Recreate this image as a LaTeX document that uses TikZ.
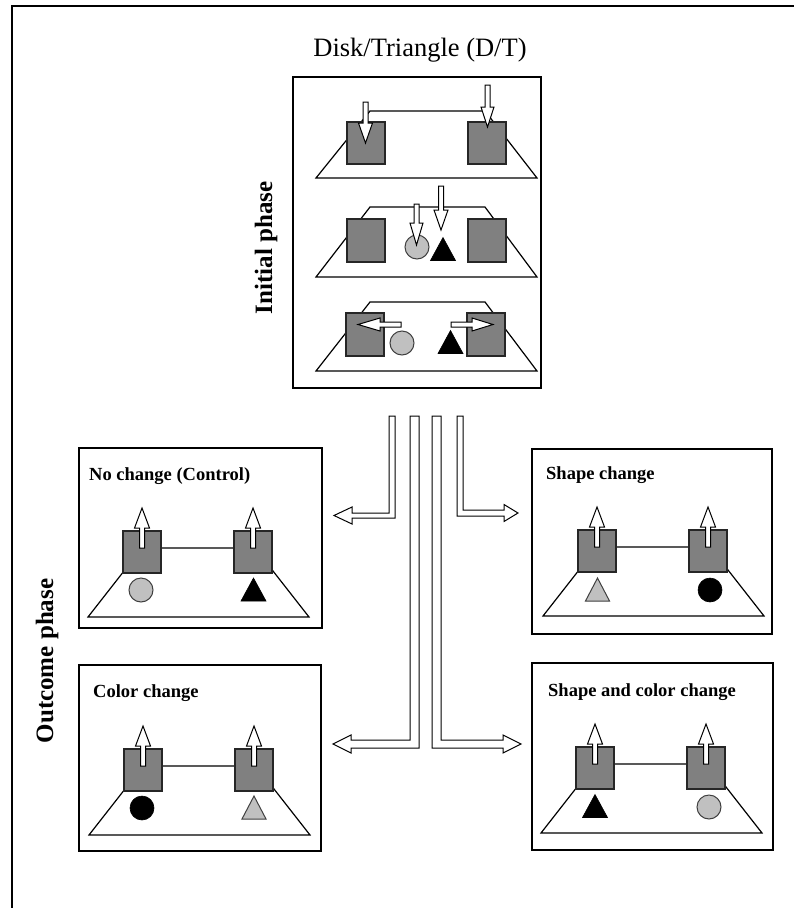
\documentclass[tikz,border=0pt]{standalone}
\usepackage{fontspec}
\setmainfont{Liberation Serif}
\definecolor{screengray}{RGB}{128,128,128}
\definecolor{lightfill}{RGB}{192,192,192}

% vertical block arrow: centre x, tail y, head base y, tip y, half head width
\newcommand{\blockV}[5]{%
  \draw[blockarrow] (#1-2.5,#2) -- (#1+2.5,#2) -- (#1+2.5,#3) -- (#1+#5,#3) -- (#1,#4)
    -- (#1-#5,#3) -- (#1-2.5,#3) -- cycle;}
% horizontal block arrow: centre y, tail x, head base x, tip x, half head height
\newcommand{\blockH}[5]{%
  \draw[blockarrow] (#2,#1-2.5) -- (#3,#1-2.5) -- (#3,#1-#5) -- (#4,#1) -- (#3,#1+#5)
    -- (#3,#1+2.5) -- (#2,#1+2.5) -- cycle;}
% stimuli
\newcommand{\lightdisk}[2]{\draw[lightshape] (#1,#2) circle[radius=12pt];}
\newcommand{\darkdisk}[2]{\draw[darkshape] (#1,#2) circle[radius=12pt];}
\newcommand{\lighttri}[2]{\draw[lightshape] (#1-12,#2+11.5) -- (#1+12,#2+11.5) -- (#1,#2-11.5) -- cycle;}
\newcommand{\darktri}[2]{\draw[darkshape] (#1-12.5,#2+11.5) -- (#1+12.5,#2+11.5) -- (#1,#2-11.5) -- cycle;}
% table with two screens and lifting arrows; origin at the table's lower left corner
\newcommand{\outcomescene}[4]{%
  \begin{scope}[shift={(#1,#2)}]
    \draw[tabletop] (0,0) -- (221,0) -- (167,-69) -- (54,-69) -- cycle;
    \draw[monitor] (35,-86) rectangle (73,-44);
    \draw[monitor] (146,-86) rectangle (184,-44);
    \blockV{54}{-69}{-89}{-109}{7.5}
    \blockV{165}{-69}{-89}{-109}{7.5}
    #3
    #4
  \end{scope}}

\begin{document}
\begin{tikzpicture}[x=1pt,y=-1pt,
  frame/.style={draw=black,line width=1.3pt},
  tabletop/.style={draw=black,line width=1.2pt,fill=white,line join=miter},
  monitor/.style={draw=black!85,fill=screengray,line width=1.2pt},
  blockarrow/.style={draw=black,fill=white,line width=1pt,line join=miter},
  lightshape/.style={draw=black!75,fill=lightfill,line width=1pt},
  darkshape/.style={draw=black,fill=black,line width=0.6pt},
  heading/.style={font=\fontsize{18.5}{22}\selectfont\bfseries,anchor=base west,inner sep=0pt},
  phase/.style={font=\fontsize{25}{30}\selectfont\bfseries,rotate=90,inner sep=0pt}]

\fill[white] (0,0) rectangle (793,908);
\useasboundingbox (0,0) rectangle (793,908);

% open outer frame
\draw[line width=2.2pt,line cap=rect] (793,6) -- (12,6) -- (12,908);

% labels
\node[font=\fontsize{26.5}{30}\selectfont,anchor=base,inner sep=0pt] (title) at (420,56) {Disk/Triangle (D/T)};
\node[phase] (initial) at (266,248) {Initial phase};
\node[phase] (outcome) at (47,661) {Outcome phase};

% ---------- initial phase ----------
\draw[frame] (293,77) rectangle (541,388);

% step 1: screens placed, stimuli lowered behind them
\draw[tabletop] (316,178) -- (537,178) -- (485,111) -- (370,111) -- cycle;
\draw[monitor] (347,122) rectangle (385,164);
\draw[monitor] (468,122) rectangle (506,164);
\blockV{365.5}{102}{123}{143}{7}
\blockV{487.5}{85}{107}{127}{6.5}

% step 2: disk and triangle lowered
\draw[tabletop] (316,277) -- (537,277) -- (485,207) -- (370,207) -- cycle;
\draw[monitor] (347,219) rectangle (385,262);
\draw[monitor] (468,219) rectangle (506,262);
\lightdisk{417}{247}
\darktri{443}{249}
\blockV{416.5}{204}{223}{245}{6.5}
\blockV{441}{186}{210}{230}{7}

% step 3: stimuli moved behind the screens
\draw[tabletop] (316,371) -- (537,371) -- (485,302) -- (370,302) -- cycle;
\draw[monitor] (346,313) rectangle (384,356);
\draw[monitor] (467,313) rectangle (505,356);
\lightdisk{402}{343}
\darktri{450.5}{342}
\blockH{324.5}{401}{380}{358}{6.5}
\blockH{324.5}{451}{472}{493}{6.5}

% ---------- branching arrows ----------
\draw[blockarrow] (389,416) -- (395,416) -- (395,518) -- (352,518) -- (352,524) -- (334,515.5)
  -- (352,507) -- (352,513) -- (389,513) -- cycle;
\draw[blockarrow] (457,416) -- (463,416) -- (463,510) -- (504,510) -- (504,504.5) -- (518,513)
  -- (504,521.5) -- (504,516) -- (457,516) -- cycle;
\draw[blockarrow] (410,416) -- (419,416) -- (419,748) -- (351,748) -- (351,753) -- (333,744)
  -- (351,735) -- (351,740) -- (410,740) -- cycle;
\draw[blockarrow] (432,416) -- (441,416) -- (441,740) -- (503,740) -- (503,735) -- (521,744)
  -- (503,753) -- (503,748) -- (432,748) -- cycle;

% ---------- outcome phase ----------
\draw[frame] (79,448) rectangle (322,628);
\node[heading] (nochange) at (89,480) {No change (Control)};
\outcomescene{88}{617}{\lightdisk{53}{-27}}{\darktri{165.5}{-27.5}}

\draw[frame] (532,449) rectangle (772,634);
\node[heading] (shapechange) at (546,479) {Shape change};
\outcomescene{543}{616}{\lighttri{54.5}{-26.5}}{\darkdisk{167}{-26}}

\draw[frame] (79,665) rectangle (321,851);
\node[heading] (colorchange) at (93,697) {Color change};
\outcomescene{89}{835}{\darkdisk{53}{-27}}{\lighttri{165}{-27.5}}

\draw[frame] (532,663) rectangle (773,850);
\node[heading] (bothchange) at (548,696) {Shape and color change};
\outcomescene{541}{833}{\darktri{54}{-27}}{\lightdisk{168}{-26}}

\end{tikzpicture}
\end{document}
